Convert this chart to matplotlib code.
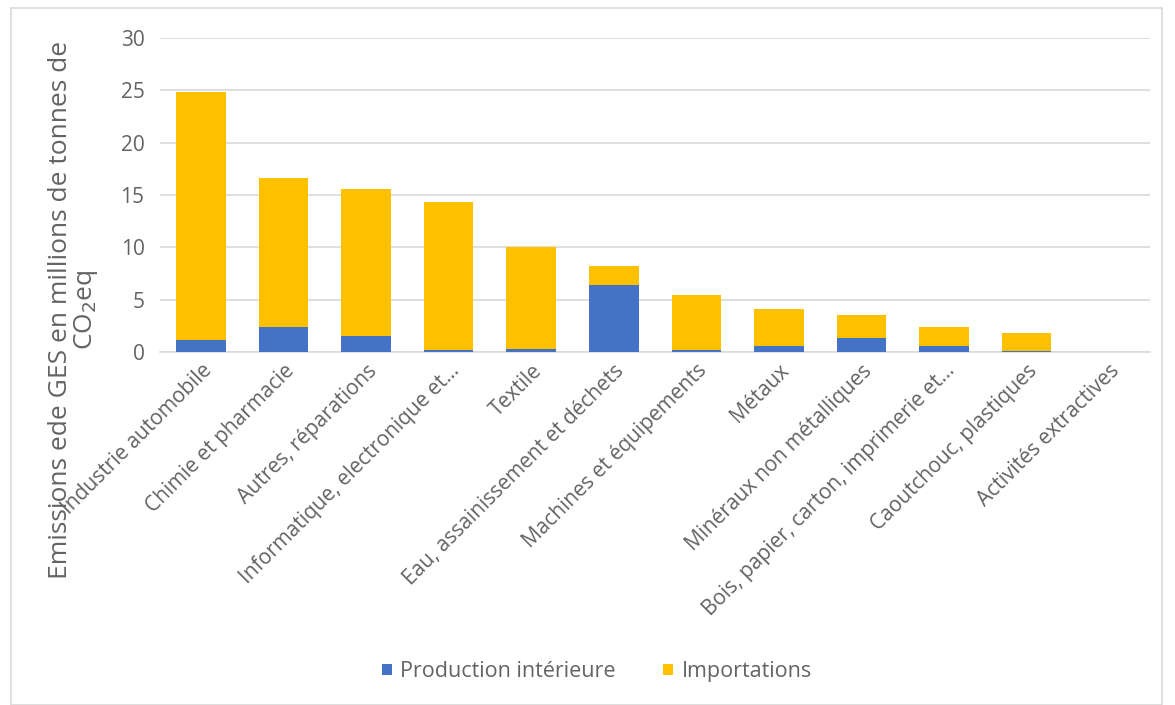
import matplotlib.pyplot as plt
from matplotlib.patches import Rectangle
import numpy as np

# -----------------------------
# Données
# -----------------------------
secteurs = [
    "Industrie automobile",
    "Chimie et pharmacie",
    "Autres, réparations",
    "Informatique, electronique et...",
    "Textile",
    "Eau, assainissement et déchets",
    "Machines et équipements",
    "Métaux",
    "Minéraux non métalliques",
    "Bois, papier, carton, imprimerie et...",
    "Caoutchouc, plastiques",
    "Activités extractives",
]
production_interieure = [1.15, 2.4, 1.5, 0.2, 0.3, 6.4, 0.15, 0.6, 1.3, 0.6, 0.05, 0.0]
importations = [23.65, 14.2, 14.1, 14.1, 9.7, 1.8, 5.25, 3.5, 2.2, 1.8, 1.75, 0.0]

bleu = "#4472C4"
jaune = "#FFC000"
gris_texte = "#636363"

plt.rcParams["font.family"] = ["Open Sans", "DejaVu Sans"]

fig = plt.figure(figsize=(11.75, 7.05), dpi=100)
ax = fig.add_axes([0.136, 0.5007, 0.843, 0.4453])

x = np.arange(len(secteurs))
ax.bar(x, production_interieure, width=0.6, color=bleu, label="Production intérieure", zorder=3)
ax.bar(x, importations, width=0.6, bottom=production_interieure, color=jaune,
       label="Importations", zorder=3)

ax.set_xlim(-0.5, len(secteurs) - 0.5)
ax.set_ylim(0, 30)
ax.set_yticks(range(0, 31, 5))
ax.tick_params(axis="y", length=0, labelsize=15, labelcolor=gris_texte, pad=11)
ax.tick_params(axis="x", length=0, pad=6)
ax.grid(axis="y", color="#D9D9D9", linewidth=1.2, zorder=0)
for s in ["top", "right", "left"]:
    ax.spines[s].set_visible(False)
ax.spines["bottom"].set_color("#D9D9D9")
ax.spines["bottom"].set_linewidth(1.2)

ax.set_xticks(x)
ax.set_xticklabels(secteurs, rotation=45, ha="right", rotation_mode="anchor",
                   fontsize=15, color=gris_texte)

fig.text(0.063, 0.56, "Emissions ede GES en millions de tonnes de\nCO$_2$eq",
         rotation=90, ha="center", va="center", fontsize=19, color=gris_texte,
         linespacing=0.95)

fig.legend(loc="center", bbox_to_anchor=(0.508, 0.047), ncol=2, frameon=False,
           fontsize=15.5, labelcolor=gris_texte, handlelength=0.45, handleheight=0.45,
           columnspacing=2.2, handletextpad=0.4)

# cadre du graphique
fig.patches.append(Rectangle((0.009, 0.0), 0.98, 0.988, transform=fig.transFigure,
                             fill=False, edgecolor="#D9D9D9", linewidth=1.2))

fig.savefig("out.png", dpi=100)
